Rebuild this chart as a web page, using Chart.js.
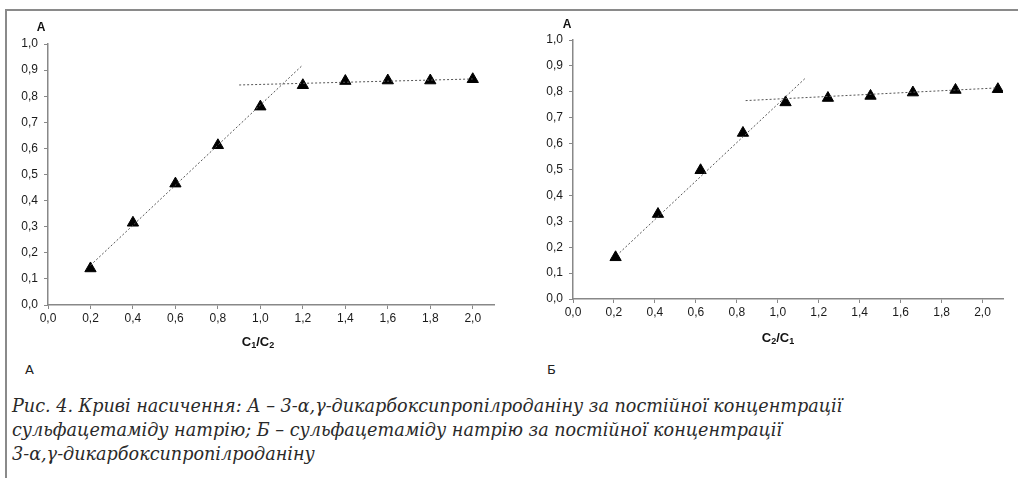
<!DOCTYPE html>
<html>
<head>
<meta charset="utf-8">
<script src="https://cdn.jsdelivr.net/npm/chart.js@4"></script>
<style>
  body { margin: 0; background: #fff; width: 1018px; height: 478px; overflow: hidden; position: relative; }
  .frame { position: absolute; left: 5px; top: 9px; width: 1013px; height: 469px; border-top: 2px solid #8a8a8a; border-left: 2px solid #8a8a8a; }
  .box { position: absolute; top: 0; height: 360px; }
  .tag { position: absolute; top: 362px; font: 13px "DejaVu Sans", sans-serif; color: #222; }
  .caption { position: absolute; left: 12px; top: 394px; font: italic 17.6px "DejaVu Serif", serif; line-height: 24px; color: #2a2a2a; white-space: nowrap; }
</style>
</head>
<body>
<div class="frame"></div>
<div class="box" style="left:0;width:510px"><canvas id="chartA"></canvas></div>
<div class="box" style="left:510px;width:508px"><canvas id="chartB"></canvas></div>
<div class="tag" style="left:25px">А</div>
<div class="tag" style="left:547px">Б</div>
<div class="caption">Рис. 4. Криві насичення: А – 3-α,γ-дикарбоксипропілроданіну за постійної концентрації<br>сульфацетаміду натрію; Б – сульфацетаміду натрію за постійної концентрації<br>3-α,γ-дикарбоксипропілроданіну</div>
<script>
// panel A: C1/C2 vs absorbance
const ratioA = [0.2, 0.4, 0.6, 0.8, 1.0, 1.2, 1.4, 1.6, 1.8, 2.0];
const absA = [0.14, 0.315, 0.465, 0.612, 0.76, 0.842, 0.858, 0.86, 0.86, 0.865];
const trendA1X = [0.2, 1.2];
const trendA1Y = [0.152, 0.92];
const trendA2X = [0.9, 2.0];
const trendA2Y = [0.843, 0.866];

// panel B: C2/C1 vs absorbance
const ratioB = [0.208, 0.415, 0.623, 0.83, 1.038, 1.245, 1.453, 1.66, 1.868, 2.075];
const absB = [0.161, 0.328, 0.497, 0.641, 0.759, 0.776, 0.784, 0.797, 0.807, 0.81];
const trendB1X = [0.228, 1.138];
const trendB1Y = [0.179, 0.855];
const trendB2X = [0.843, 2.073];
const trendB2Y = [0.766, 0.815];

const xTicks = [0, 0.2, 0.4, 0.6, 0.8, 1.0, 1.2, 1.4, 1.6, 1.8, 2.0];
const yTicks = [0, 0.1, 0.2, 0.3, 0.4, 0.5, 0.6, 0.7, 0.8, 0.9, 1.0];

const pts = (xs, ys) => xs.map((x, i) => ({ x: x, y: ys[i] }));
const fmt = (v) => v.toFixed(1).replace(".", ",");

// draws "A" above the y axis and the x title with subscripts
const titlesPlugin = {
  id: "titles",
  afterDraw(chart, args, opts) {
    const ctx = chart.ctx;
    const area = chart.chartArea;
    ctx.save();
    ctx.fillStyle = "#111";
    ctx.textBaseline = "middle";
    ctx.textAlign = "center";
    ctx.font = "bold 12px 'Liberation Sans', Arial, sans-serif";
    ctx.fillText("A", area.left + opts.yDx, area.top + opts.yDy);

    // x title pieces: [text, isSub]
    const parts = opts.xParts;
    const big = "bold 13px 'Liberation Sans', Arial, sans-serif";
    const small = "bold 9px 'Liberation Sans', Arial, sans-serif";
    let total = 0;
    parts.forEach((p) => {
      ctx.font = p[1] ? small : big;
      total += ctx.measureText(p[0]).width;
    });
    let x = area.left + opts.xDx - total / 2;
    const y = area.bottom + opts.xDy;
    ctx.textAlign = "left";
    parts.forEach((p) => {
      ctx.font = p[1] ? small : big;
      ctx.fillText(p[0], x, p[1] ? y + 4 : y);
      x += ctx.measureText(p[0]).width;
    });
    ctx.restore();
  },
};

function makeChart(id, xs, ys, t1x, t1y, t2x, t2y, pad, xHeight, titles) {
  const trend = {
    type: "line",
    borderColor: "#555",
    borderWidth: 1,
    borderDash: [2, 2],
    pointRadius: 0,
    showLine: true,
    fill: false,
  };
  new Chart(document.getElementById(id), {
    type: "scatter",
    data: {
      datasets: [
        Object.assign({ data: pts(t1x, t1y) }, trend),
        Object.assign({ data: pts(t2x, t2y) }, trend),
        {
          data: pts(xs, ys),
          pointStyle: "triangle",
          pointRadius: 6.5,
          backgroundColor: "#000",
          borderColor: "#000",
          borderWidth: 1,
        },
      ],
    },
    options: {
      responsive: true,
      maintainAspectRatio: false,
      animation: false,
      layout: { padding: pad },
      plugins: {
        legend: { display: false },
        tooltip: { enabled: false },
        titles: titles,
      },
      scales: {
        x: {
          type: "linear",
          min: 0,
          max: 2.1,
          afterBuildTicks: (scale) => { scale.ticks = xTicks.map((v) => ({ value: v })); },
          afterFit: (scale) => { scale.height = xHeight; },
          grid: { drawOnChartArea: false, tickLength: 4, tickColor: "#888" },
          border: { color: "#888", width: 1.5 },
          ticks: {
            padding: 2,
            color: "#1a1a1a",
            font: { family: "'Liberation Sans', Arial, sans-serif", size: 12 },
            callback: (v) => fmt(v),
          },
        },
        y: {
          min: 0,
          max: 1.0,
          afterBuildTicks: (scale) => { scale.ticks = yTicks.map((v) => ({ value: v })); },
          afterFit: (scale) => { scale.width = 40; },
          grid: { drawOnChartArea: false, tickLength: 4, tickColor: "#888" },
          border: { color: "#888", width: 1.5 },
          ticks: {
            padding: 6,
            color: "#1a1a1a",
            font: { family: "'Liberation Sans', Arial, sans-serif", size: 12 },
            callback: (v) => fmt(v),
          },
        },
      },
    },
    plugins: [titlesPlugin],
  });
}

makeChart("chartA", ratioA, absA, trendA1X, trendA1Y, trendA2X, trendA2Y,
  { left: 8, right: 16, top: 44, bottom: 20 }, 35,
  { yDx: -7, yDy: -16, xDx: 210, xDy: 37, xParts: [["C", false], ["1", true], ["/C", false], ["2", true]] });

makeChart("chartB", ratioB, absB, trendB1X, trendB1Y, trendB2X, trendB2Y,
  { left: 23, right: 15, top: 40, bottom: 20 }, 41,
  { yDx: -6, yDy: -15, xDx: 205, xDy: 39, xParts: [["C", false], ["2", true], ["/C", false], ["1", true]] });
</script>
</body>
</html>
